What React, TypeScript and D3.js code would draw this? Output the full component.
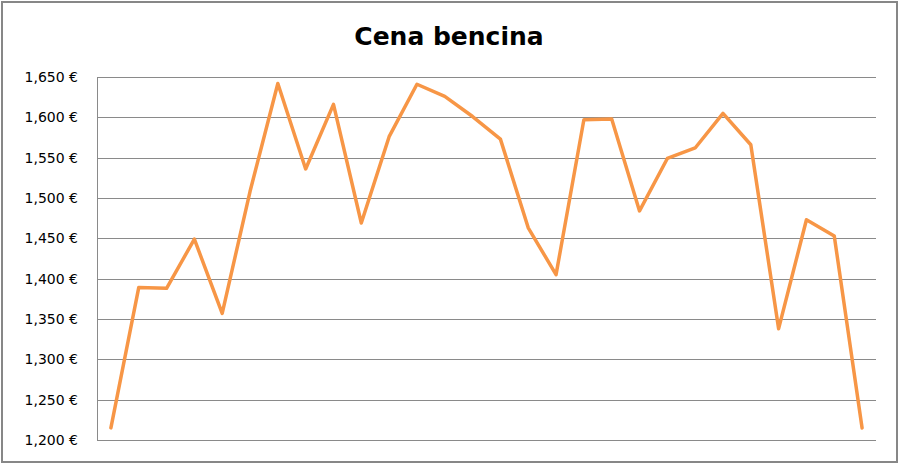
import React from "react";
import * as d3 from "d3";

const categories: string[] = Array.from({ length: 28 }, (_, i) => String(i + 1));
const prices: number[] = [
  1.215, 1.389, 1.388, 1.449, 1.357, 1.508, 1.642, 1.536, 1.616, 1.469,
  1.576, 1.641, 1.626, 1.601, 1.573, 1.463, 1.405, 1.597, 1.598, 1.484,
  1.549, 1.562, 1.605, 1.566, 1.338, 1.473, 1.453, 1.215,
];
const yTicks: number[] = [1.2, 1.25, 1.3, 1.35, 1.4, 1.45, 1.5, 1.55, 1.6, 1.65];
const title = "Cena bencina";

const W = 900;
const H = 465;
const left = 97;
const right = 876;
const top = 77;
const bottom = 440;

export default function App() {
  const x = d3.scaleBand<string>().domain(categories).range([left, right]).padding(0);
  const y = d3.scaleLinear().domain([1.2, 1.65]).range([bottom, top]);
  const line = d3
    .line<number>()
    .x((_, i) => (x(categories[i]) as number) + x.bandwidth() / 2)
    .y((d) => y(d));
  const fmt = (v: number) => d3.format(".3f")(v).replace(".", ",") + " €";
  const grid = "#8a8a8a";

  return (
    <div style={{ position: "absolute", left: 0, top: 0 }}>
      <svg width={W} height={H} style={{ display: "block", fontFamily: "DejaVu Sans, sans-serif" }}>
        <rect x={0} y={0} width={W} height={H} fill="#fff" />
        <rect x={2} y={2} width={895} height={460} fill="none" stroke="#878787" strokeWidth={2} />
        <text x={449} y={45} textAnchor="middle" fontSize={25} fontWeight="bold" fill="#000">
          {title}
        </text>
        {yTicks.map((t) => (
          <g key={t}>
            <line x1={left} x2={right} y1={Math.round(y(t)) + 0.5} y2={Math.round(y(t)) + 0.5} stroke={grid} strokeWidth={1} />
            <text x={78} y={y(t) + 5} textAnchor="end" fontSize={14} fill="#000">
              {fmt(t)}
            </text>
          </g>
        ))}
        <line x1={left + 0.5} x2={left + 0.5} y1={top} y2={bottom} stroke={grid} strokeWidth={1} />
        <path d={line(prices) || ""} fill="none" stroke="#F79646" strokeWidth={3.5} strokeLinejoin="round" strokeLinecap="round" />
      </svg>
    </div>
  );
}
